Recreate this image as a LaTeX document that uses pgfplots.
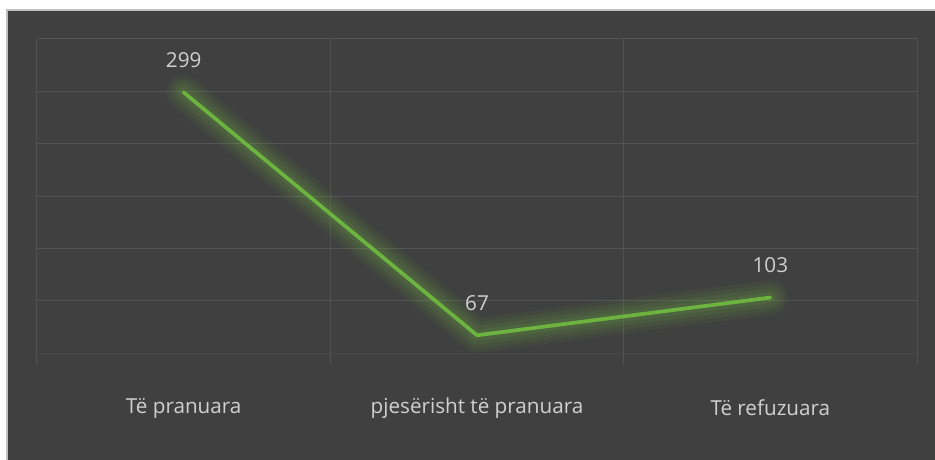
\documentclass[border=0pt]{standalone}
\usepackage{pgfplots}
\pgfplotsset{compat=1.18}
\usepackage{fontspec}
\setmainfont{Open Sans}
\definecolor{bg}{HTML}{404040}
\definecolor{gridc}{HTML}{555555}
\definecolor{gridf}{HTML}{4A4A4A}
\definecolor{txt}{HTML}{D0D0D0}
\definecolor{lgreen}{HTML}{6CB33F}
\begin{document}
\begin{tikzpicture}
\path[use as bounding box] (0,0) rectangle (701.25pt,345pt);
\fill[white] (0,0) rectangle (701.25pt,345pt);
\fill[bg] (5.25pt,0) rectangle (701.25pt,337.5pt);
\draw[color=black!25,line width=0.8pt] (5.25pt,0) -- (5.25pt,337.5pt) -- (701.25pt,337.5pt);
\begin{axis}[
  at={(27.75pt,71.25pt)}, anchor=south west,
  scale only axis, width=660pt, height=244.5pt,
  xmin=-0.5, xmax=2.5, ymin=38.6, ymax=350,
  axis line style={draw=none},
  major tick length=0pt,
  /pgf/number format/assume math mode=true,
  xtick={0,1,2},
  xticklabels={Të pranuara, pjesërisht të pranuara, Të refuzuara},
  xticklabel style={anchor=center, yshift=-32.25pt, font=\fontsize{15.5}{18}\selectfont, text=txt},
  ytick={100,150,...,350}, yticklabels={},
  ymajorgrids, grid style={gridc, line width=0.75pt},
  extra y ticks={50}, extra y tick labels={},
  extra y tick style={grid style={gridf, line width=0.75pt}},
  extra x ticks={-0.5,0.5,1.5,2.5},
  extra x tick labels={},
  extra x tick style={xmajorgrids=true, major tick length=0pt, grid style={gridc!80!bg, line width=0.75pt}},
  clip=false,
]
\addplot[lgreen, opacity=0.07, line width=26pt, line join=round, line cap=round, forget plot] coordinates {(0,299) (1,67) (2,103)};
\addplot[lgreen, opacity=0.08, line width=20pt, line join=round, line cap=round, forget plot] coordinates {(0,299) (1,67) (2,103)};
\addplot[lgreen, opacity=0.1, line width=14pt, line join=round, line cap=round, forget plot] coordinates {(0,299) (1,67) (2,103)};
\addplot[lgreen, opacity=0.12, line width=8pt, line join=round, line cap=round, forget plot] coordinates {(0,299) (1,67) (2,103)};
\addplot[lgreen, line width=2.8pt, line join=round, line cap=round,
  nodes near coords,
  every node near coord/.style={anchor=center, yshift=24pt, font=\fontsize{15.5}{18}\selectfont, text=txt}]
  coordinates {(0,299) (1,67) (2,103)};
\end{axis}
\end{tikzpicture}
\end{document}
